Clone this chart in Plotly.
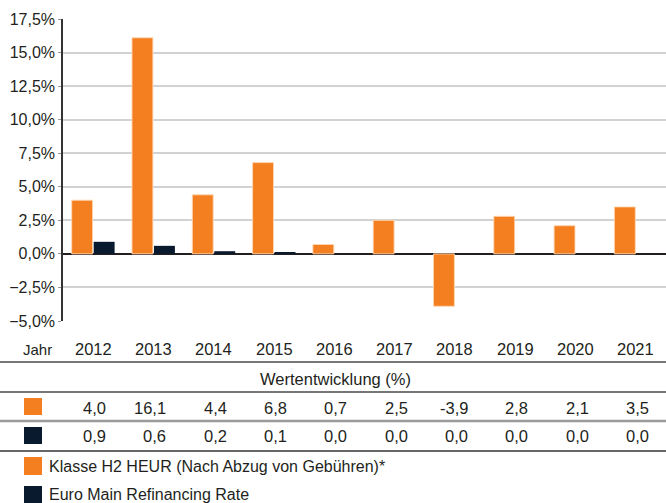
import plotly.graph_objects as go

years = [2012, 2013, 2014, 2015, 2016, 2017, 2018, 2019, 2020, 2021]
fund_values = [4.0, 16.1, 4.4, 6.8, 0.7, 2.5, -3.9, 2.8, 2.1, 3.5]
rate_values = [0.9, 0.6, 0.2, 0.1, 0.0, 0.0, 0.0, 0.0, 0.0, 0.0]
fund_name = "Klasse H2 HEUR (Nach Abzug von Gebühren)*"
rate_name = "Euro Main Refinancing Rate"
table_title = "Wertentwicklung (%)"
year_header = "Jahr"

ORANGE = "#f47f20"
NAVY = "#0a1a2e"
TEXT = "#231f20"
FONT = "Liberation Sans, Arial, sans-serif"

W, H = 666, 503
L, R, T, B = 63, 0, 19, 182
PW = W - L - R
PH = H - T - B


def px(x):
    return (x - L) / PW


def py(y):
    return (H - B - y) / PH


fig = go.Figure()
fig.add_trace(go.Bar(x=years, y=fund_values, name=fund_name, marker_color=ORANGE,
                     marker_line=dict(color="rgba(255,215,180,0.9)", width=1)))
fig.add_trace(go.Bar(x=years, y=rate_values, name=rate_name, marker_color=NAVY,
                     marker_line=dict(width=0)))

annotations = []
shapes = []

# header row
annotations.append(dict(text=year_header, xref="paper", yref="paper", x=px(21), y=py(349),
                        xanchor="left", yanchor="middle", showarrow=False,
                        font=dict(size=15, color=TEXT, family=FONT)))
for yr in years:
    annotations.append(dict(text=str(yr), xref="x", yref="paper", x=yr, y=py(349),
                            xanchor="center", yanchor="middle", showarrow=False,
                            font=dict(size=16.5, color=TEXT, family=FONT)))

annotations.append(dict(text=table_title, xref="paper", yref="paper", x=px(335), y=py(379),
                        xanchor="center", yanchor="middle", showarrow=False,
                        font=dict(size=16.5, color=TEXT, family=FONT)))


def fmt(v):
    return f"{v:.1f}".replace(".", ",")


for yr, fv, rv in zip(years, fund_values, rate_values):
    annotations.append(dict(text=fmt(fv), xref="x", yref="paper", x=yr, y=py(408),
                            xanchor="right", yanchor="middle", xshift=15, showarrow=False,
                            font=dict(size=16.5, color=TEXT, family=FONT)))
    annotations.append(dict(text=fmt(rv), xref="x", yref="paper", x=yr, y=py(436),
                            xanchor="right", yanchor="middle", xshift=15, showarrow=False,
                            font=dict(size=16.5, color=TEXT, family=FONT)))

# legend rows
annotations.append(dict(text=fund_name, xref="paper", yref="paper", x=px(47), y=py(466),
                        xanchor="left", yanchor="middle", showarrow=False,
                        font=dict(size=16, color=TEXT, family=FONT)))
annotations.append(dict(text=rate_name, xref="paper", yref="paper", x=px(47), y=py(494),
                        xanchor="left", yanchor="middle", showarrow=False,
                        font=dict(size=16, color=TEXT, family=FONT)))

# squares
for (y0, y1, c) in [(398, 415, ORANGE), (427, 444, NAVY), (457, 475, ORANGE), (486, 503, NAVY)]:
    shapes.append(dict(type="rect", xref="paper", yref="paper", x0=px(24), x1=px(42),
                       y0=py(y1), y1=py(y0), fillcolor=c, line=dict(width=0)))

# table lines
for (yy, c, w) in [(362, "#4a4a4a", 1.3), (392, "#4a4a4a", 1.3), (421, "#9a9a9a", 2.5), (451, "#333333", 1.3)]:
    shapes.append(dict(type="line", xref="paper", yref="paper", x0=px(0), x1=px(W),
                       y0=py(yy), y1=py(yy), line=dict(color=c, width=w)))

fig.update_layout(
    width=W, height=H,
    margin=dict(l=L, r=R, t=T, b=B),
    paper_bgcolor="white", plot_bgcolor="white",
    separators=",.",
    showlegend=False,
    barmode="group", bargap=0.27, bargroupgap=0.05,
    font=dict(family=FONT, color=TEXT, size=16),
    annotations=annotations, shapes=shapes,
)
fig.update_xaxes(type="linear", range=[years[0] - 0.5, years[-1] + 0.5],
                 showticklabels=False, showgrid=False, showline=False,
                 zeroline=False, ticks="")
fig.update_yaxes(range=[-5, 17.5], dtick=2.5, tick0=0, tickformat=".1f", ticksuffix="%",
                 showgrid=True, gridcolor="#d2d2d2", gridwidth=1.5,
                 zeroline=True, zerolinecolor="#231f20", zerolinewidth=2.2,
                 showline=True, linecolor="#333333", linewidth=1.5,
                 ticks="outside", ticklen=3, tickcolor="#999999",
                 tickfont=dict(size=16, color=TEXT, family=FONT))

fig.write_html("out.html", config={"displayModeBar": False},
               post_script="document.body.style.margin='0';")
